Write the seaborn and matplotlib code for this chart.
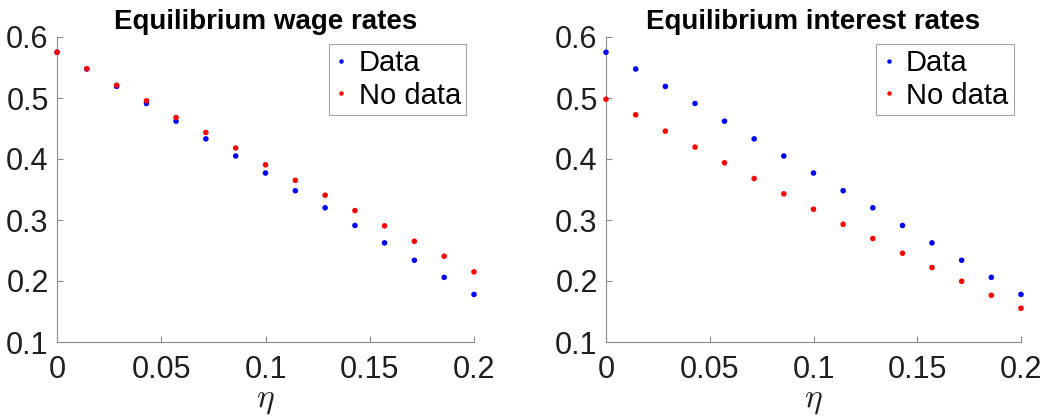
import matplotlib
matplotlib.use("Agg")
import matplotlib.pyplot as plt
import seaborn as sns
import pandas as pd
from matplotlib.ticker import FuncFormatter

eta = [0.0, 0.0143, 0.0286, 0.0429, 0.0571, 0.0714, 0.0857, 0.1,
       0.1143, 0.1286, 0.1429, 0.1571, 0.1714, 0.1857, 0.2]

wage_data = [0.575, 0.5475, 0.519, 0.491, 0.462, 0.433, 0.405, 0.377,
             0.348, 0.320, 0.291, 0.2625, 0.234, 0.206, 0.178]
wage_nodata = [0.575, 0.548, 0.521, 0.4955, 0.468, 0.4435, 0.418, 0.3905,
               0.365, 0.3407, 0.3155, 0.2904, 0.2652, 0.2406, 0.215]

int_data = [0.575, 0.5475, 0.519, 0.491, 0.462, 0.433, 0.405, 0.377,
            0.348, 0.320, 0.291, 0.2625, 0.234, 0.206, 0.178]
int_nodata = [0.498, 0.4725, 0.4457, 0.4195, 0.3938, 0.368, 0.3429, 0.3177,
              0.2931, 0.2696, 0.2455, 0.222, 0.1996, 0.1766, 0.1553]

titles = ["Equilibrium wage rates", "Equilibrium interest rates"]
series_names = ["Data", "No data"]
xticks = [0, 0.05, 0.1, 0.15, 0.2]
yticks = [0.1, 0.2, 0.3, 0.4, 0.5, 0.6]

sns.set_style("white")
plt.rcParams["font.family"] = ["Liberation Sans", "DejaVu Sans"]
plt.rcParams["mathtext.fontset"] = "cm"

fig = plt.figure(figsize=(10.45, 4.16), dpi=100)
ax1 = fig.add_axes([57/1045, 1-342/416, 417/1045, 305/416])
ax2 = fig.add_axes([606/1045, 1-342/416, 415/1045, 305/416])

palette = {"Data": (0, 0, 1), "No data": (1, 0, 0)}
axis_gray = (0.55, 0.55, 0.55)
text_col = (0.12, 0.12, 0.12)

def fmt(v, pos):
    return "%g" % round(v, 4)

for ax, title, d, nd in [(ax1, titles[0], wage_data, wage_nodata),
                         (ax2, titles[1], int_data, int_nodata)]:
    df = pd.DataFrame({
        "eta": eta + eta,
        "val": d + nd,
        "series": [series_names[0]] * len(eta) + [series_names[1]] * len(eta),
    })
    sns.scatterplot(data=df, x="eta", y="val", hue="series", palette=palette,
                    s=16, linewidth=0, ax=ax, clip_on=False, zorder=3)
    ax.set_xlim(0, 0.2)
    ax.set_ylim(0.1, 0.6)
    ax.set_xticks(xticks)
    ax.set_yticks(yticks)
    ax.xaxis.set_major_formatter(FuncFormatter(fmt))
    ax.yaxis.set_major_formatter(FuncFormatter(fmt))
    ax.tick_params(direction="in", length=4, width=0.8, color=axis_gray,
                   labelsize=22, labelcolor=text_col, pad=6,
                   bottom=True, left=True)
    ax.tick_params(axis="x", pad=9)
    for side in ["top", "right"]:
        ax.spines[side].set_visible(False)
    for side in ["left", "bottom"]:
        ax.spines[side].set_color(axis_gray)
        ax.spines[side].set_linewidth(0.8)
    ax.set_title(title, fontsize=20, fontweight="bold", pad=6, color="black")
    ax.set_xlabel(r"$\eta$", fontsize=24, color=text_col, labelpad=0)
    ax.set_ylabel("")
    leg = ax.legend(loc="upper right", bbox_to_anchor=(0.982, 0.977),
                    borderaxespad=0, fontsize=21, frameon=True, fancybox=False,
                    handletextpad=0.35, borderpad=0.18, labelspacing=0.15,
                    handlelength=0.5, markerscale=0.8)
    leg.get_frame().set_edgecolor(axis_gray)
    leg.get_frame().set_linewidth(0.8)
    for t in leg.get_texts():
        t.set_color("black")

fig.savefig("out.png", dpi=100, facecolor="white")
